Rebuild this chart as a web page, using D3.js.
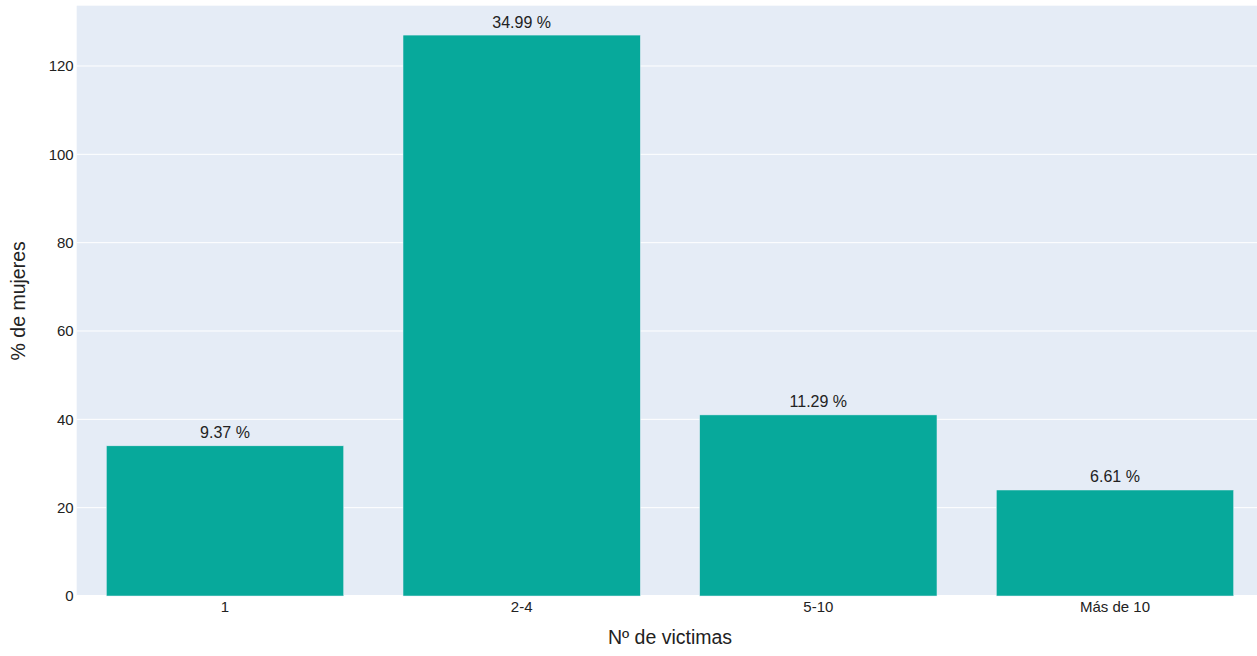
<!DOCTYPE html>
<html>
<head>
<meta charset="utf-8">
<script src="https://cdn.jsdelivr.net/npm/d3@7"></script>
<style>
  html, body { margin: 0; padding: 0; background: #fff; overflow: hidden; }
  svg { display: block; font-family: "Liberation Sans", Arial, sans-serif; }
</style>
</head>
<body>
<svg id="chart" width="1257" height="656"></svg>
<script>
const categories = ["1", "2-4", "5-10", "Más de 10"];
const counts = [34, 127, 41, 24];
const percentLabels = ["9.37 %", "34.99 %", "11.29 %", "6.61 %"];
const yTicks = [0, 20, 40, 60, 80, 100, 120];
const xTitle = "Nº de victimas";
const yTitle = "% de mujeres";

const W = 1257, H = 656;
const plotLeft = 76.7, plotRight = 1263.3, plotTop = 5.7, plotBottom = 596;
const svg = d3.select("#chart");

const x = d3.scaleBand().domain(categories).range([plotLeft, plotRight])
  .paddingInner(0.2).paddingOuter(0.1);
const y = d3.scaleLinear().domain([0, 133.65]).range([plotBottom, plotTop]);

svg.append("rect")
  .attr("x", plotLeft).attr("y", plotTop)
  .attr("width", plotRight - plotLeft).attr("height", plotBottom - plotTop)
  .attr("fill", "#E5ECF6");

// gridlines
svg.append("g").selectAll("line").data(yTicks.filter(d => d > 0)).join("line")
  .attr("x1", plotLeft).attr("x2", plotRight)
  .attr("y1", d => y(d)).attr("y2", d => y(d))
  .attr("stroke", "#fff").attr("stroke-width", 1);

// zero line
svg.append("line")
  .attr("x1", plotLeft).attr("x2", plotRight)
  .attr("y1", y(0)).attr("y2", y(0))
  .attr("stroke", "#fff").attr("stroke-width", 2);

// bars
const data = categories.map((c, i) => ({ c, v: counts[i], label: percentLabels[i] }));
svg.append("g").selectAll("rect").data(data).join("rect")
  .attr("x", d => x(d.c)).attr("width", x.bandwidth())
  .attr("y", d => y(d.v)).attr("height", d => y(0) - y(d.v))
  .attr("fill", "#07a99b")
  .attr("stroke", "#E5ECF6").attr("stroke-width", 0.5);

// bar labels
svg.append("g").selectAll("text").data(data).join("text")
  .attr("x", d => x(d.c) + x.bandwidth() / 2)
  .attr("y", d => y(d.v) - 7.5)
  .attr("text-anchor", "middle")
  .attr("font-size", 16)
  .attr("fill", "#222")
  .text(d => d.label);

// y axis
const yAxis = d3.axisLeft(y).tickValues(yTicks).tickSize(0).tickPadding(3);
const gy = svg.append("g").attr("transform", `translate(${plotLeft},0)`).call(yAxis);
gy.select(".domain").remove();
gy.selectAll("text").attr("font-size", 15).attr("fill", "#222").attr("font-family", "Liberation Sans, Arial, sans-serif");

// x axis
const xAxis = d3.axisBottom(x).tickSize(0).tickPadding(5);
const gx = svg.append("g").attr("transform", `translate(0,${y(0)})`).call(xAxis);
gx.select(".domain").remove();
gx.selectAll("text").attr("font-size", 15).attr("fill", "#222").attr("font-family", "Liberation Sans, Arial, sans-serif");

// titles
svg.append("text")
  .attr("x", (plotLeft + plotRight) / 2).attr("y", 644)
  .attr("text-anchor", "middle").attr("font-size", 19.5).attr("fill", "#222")
  .text(xTitle);

svg.append("text")
  .attr("transform", `translate(25,${(plotTop + plotBottom) / 2}) rotate(-90)`)
  .attr("text-anchor", "middle").attr("font-size", 19.5).attr("fill", "#222")
  .text(yTitle);
</script>
</body>
</html>
